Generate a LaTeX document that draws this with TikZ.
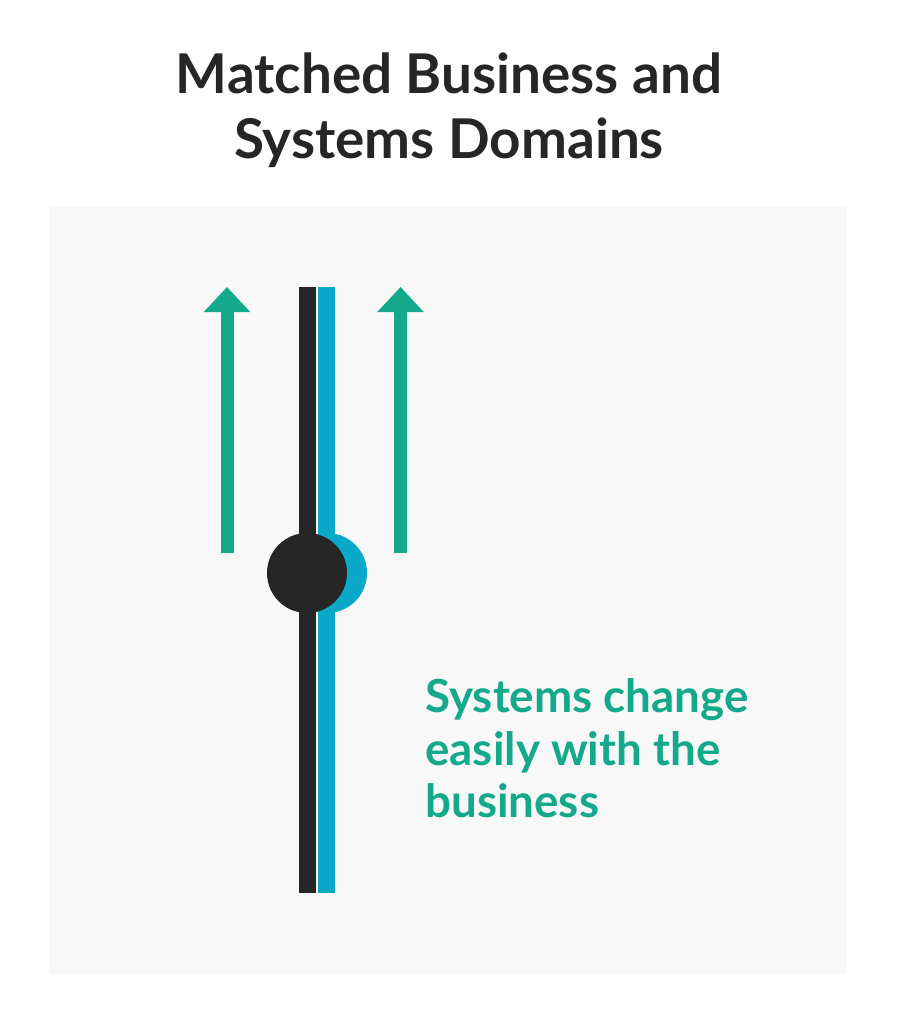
\documentclass[tikz,border=0pt]{standalone}
\usepackage{fontspec}
\setmainfont{Lato}
\usetikzlibrary{arrows.meta, positioning}
\definecolor{PanelGray}{HTML}{F8F8F8}
\definecolor{BarBlack}{HTML}{262626}
\definecolor{BarBlue}{HTML}{0BA9C9}
\definecolor{ArrowGreen}{HTML}{14A98B}
\begin{document}
\begin{tikzpicture}[
  x=0.025cm, y=-0.025cm,
  title/.style = {font=\fontsize{39}{46}\selectfont\bfseries, text=BarBlack, align=center},
  note/.style  = {font=\fontsize{32.5}{37.6}\selectfont\bfseries, text=ArrowGreen, align=left, anchor=north west, inner sep=0pt},
  bar/.style   = {rectangle, inner sep=0pt, minimum width=17*0.025cm, minimum height=606*0.025cm},
  knob/.style  = {circle, inner sep=0pt, minimum size=80*0.025cm},
  uparr/.style = {-{Triangle[width=45*0.025cm, length=25*0.025cm]}, line width=13*0.025cm, draw=ArrowGreen},
]
\useasboundingbox (0,0) rectangle (899,1023);

% Panel
\fill[PanelGray] (49,207) rectangle (847,973);

% Title
\node[title] (head) at (449,110) {Matched Business and\\Systems Domains};

% Bars and knobs
\node[knob, fill=BarBlue] (knobblue) at (327,573) {};
\node[bar, fill=BarBlue] (blue) at (326,590) {};
\node[bar, fill=BarBlack] (black) at (307.5,590) {};
\node[knob, fill=BarBlack] (knobblack) at (307,573) {};

% Arrows
\coordinate (la) at (227,553);
\coordinate (lb) at (227,287);
\coordinate (ra) at (400.5,553);
\coordinate (rb) at (400.5,287);
\draw[uparr] (la) -- (lb);
\draw[uparr] (ra) -- (rb);

% Note
\node[note] (msg) at (425,678) {Systems change\\easily with the\\business};

\end{tikzpicture}
\end{document}
